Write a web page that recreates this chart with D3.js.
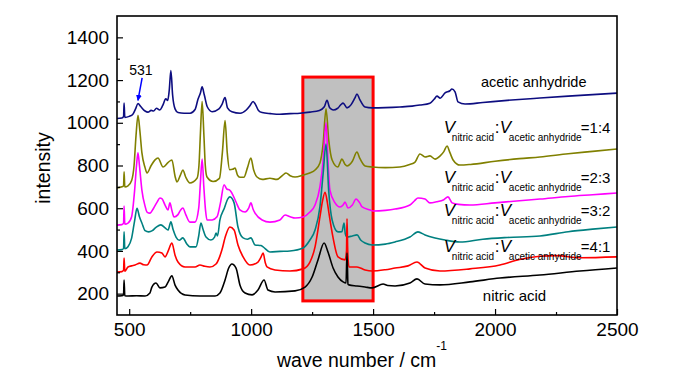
<!DOCTYPE html>
<html>
<head>
<meta charset="utf-8">
<script src="https://cdn.jsdelivr.net/npm/d3@7"></script>
<style>
    body { margin: 0; background: #fff; }
    svg { display: block; font-family: "Liberation Sans", Arial, sans-serif; }
</style>
</head>
<body>
<svg id="chart" width="700" height="374"></svg>
<script>
// spectra, [wave number, intensity]
const aceticAnhydride = [[450,1020],[470,1022],[477,1030],[479,1092],[482,1025],[500,1030],[515,1040],[526,1065],[536,1090],[548,1075],[565,1055],[577,1050],[590,1058],[600,1055],[612,1068],[625,1060],[637,1080],[650,1112],[658,1105],[664,1150],[671,1245],[678,1130],[688,1065],[700,1048],[725,1045],[750,1045],[770,1062],[782,1110],[792,1140],[799,1168],[808,1130],[820,1075],[840,1052],[868,1065],[880,1085],[893,1118],[903,1070],[921,1052],[955,1045],[980,1060],[995,1080],[1008,1100],[1018,1085],[1030,1058],[1045,1048],[1080,1043],[1118,1040],[1160,1043],[1200,1045],[1241,1050],[1280,1058],[1300,1075],[1311,1105],[1322,1070],[1336,1060],[1355,1068],[1368,1085],[1377,1092],[1393,1070],[1410,1085],[1425,1115],[1434,1135],[1445,1110],[1467,1074],[1496,1070],[1550,1071],[1610,1074],[1660,1078],[1692,1083],[1733,1092],[1750,1110],[1762,1125],[1775,1115],[1795,1140],[1815,1150],[1823,1158],[1836,1145],[1848,1098],[1877,1088],[1950,1095],[2050,1105],[2184,1116],[2300,1125],[2400,1132],[2500,1139]];

const ratio14 = [[450,695],[470,700],[477,705],[479,770],[482,700],[495,705],[510,730],[520,800],[528,940],[536,1035],[544,960],[552,860],[565,790],[573,765],[590,800],[605,825],[618,835],[639,793],[660,815],[675,826],[688,750],[696,723],[710,755],[720,779],[732,745],[749,718],[778,740],[786,800],[792,950],[799,1100],[806,950],[812,800],[819,746],[844,725],[870,740],[882,860],[893,1010],[902,860],[912,780],[924,782],[934,788],[944,755],[954,745],[970,745],[985,790],[999,835],[1010,780],[1024,746],[1045,735],[1077,740],[1106,735],[1130,755],[1143,765],[1160,752],[1180,746],[1213,755],[1240,765],[1262,779],[1282,812],[1295,900],[1307,1065],[1318,920],[1332,826],[1356,793],[1365,815],[1372,830],[1385,805],[1393,798],[1415,820],[1434,863],[1445,835],[1467,798],[1496,793],[1550,790],[1610,793],[1650,805],[1672,816],[1692,854],[1713,840],[1733,845],[1754,830],[1775,845],[1790,865],[1803,891],[1815,860],[1828,826],[1856,802],[1900,805],[2000,820],[2100,832],[2184,840],[2300,855],[2400,866],[2500,877]];

const ratio23 = [[450,521],[470,523],[477,530],[479,610],[482,525],[495,530],[510,560],[522,680],[530,800],[536,860],[542,800],[552,685],[565,610],[573,582],[585,577],[600,600],[615,630],[626,648],[634,645],[647,615],[659,592],[667,625],[675,590],[684,559],[700,570],[710,590],[720,601],[732,570],[749,535],[770,535],[785,600],[792,720],[799,830],[806,700],[813,590],[819,545],[840,545],[860,560],[875,630],[889,710],[900,690],[912,685],[921,671],[938,629],[954,592],[975,582],[990,600],[999,625],[1008,595],[1016,577],[1045,545],[1077,535],[1118,545],[1139,568],[1160,560],[1180,554],[1213,559],[1241,582],[1262,615],[1282,700],[1295,820],[1307,1000],[1315,820],[1323,685],[1344,625],[1364,606],[1377,615],[1385,629],[1397,601],[1415,615],[1430,643],[1445,625],[1455,606],[1488,592],[1500,587],[1550,590],[1590,596],[1651,615],[1670,635],[1684,648],[1713,643],[1733,625],[1760,630],[1790,640],[1807,653],[1824,625],[1850,618],[1897,615],[2000,625],[2100,635],[2184,643],[2300,655],[2400,663],[2500,671]];

const ratio32 = [[450,404],[470,406],[477,412],[479,490],[482,410],[495,420],[510,460],[522,540],[532,600],[542,560],[552,531],[565,495],[580,489],[595,495],[610,510],[630,522],[647,508],[659,498],[671,536],[680,500],[692,465],[705,450],[720,461],[735,435],[749,419],[774,419],[785,470],[794,531],[803,500],[815,465],[835,451],[850,465],[856,484],[862,470],[872,545],[890,600],[905,645],[913,653],[930,625],[946,512],[967,461],[985,455],[999,461],[1016,428],[1040,425],[1049,419],[1077,395],[1118,398],[1159,400],[1213,414],[1241,451],[1262,498],[1282,606],[1295,760],[1307,900],[1318,680],[1332,545],[1356,489],[1372,490],[1381,531],[1386,480],[1393,465],[1415,470],[1434,475],[1450,450],[1467,437],[1496,428],[1550,432],[1590,442],[1651,465],[1684,489],[1713,475],[1754,461],[1795,451],[1856,442],[1950,455],[2050,463],[2184,470],[2300,490],[2400,502],[2500,512]];

const ratio41 = [[450,301],[470,303],[477,310],[479,367],[482,305],[495,325],[510,330],[524,334],[544,343],[560,335],[573,334],[593,372],[614,395],[634,390],[647,372],[660,400],[675,437],[688,380],[700,348],[729,325],[770,325],[790,334],[810,328],[831,325],[856,339],[870,370],[880,404],[895,470],[913,512],[930,498],[946,428],[967,372],[995,334],[1028,348],[1040,370],[1049,390],[1058,345],[1065,325],[1098,311],[1159,306],[1213,316],[1241,348],[1262,419],[1282,559],[1292,630],[1303,675],[1312,630],[1319,577],[1336,461],[1356,372],[1385,358],[1391,400],[1393,550],[1396,400],[1401,325],[1434,325],[1467,311],[1496,306],[1550,312],[1590,320],[1643,330],[1680,348],[1713,320],[1774,306],[1897,316],[2020,334],[2100,360],[2184,375],[2250,378],[2350,368],[2500,372]];

const nitricAcid = [[450,189],[470,190],[477,195],[479,264],[482,190],[495,189],[530,190],[565,189],[585,203],[593,231],[610,250],[626,227],[647,231],[660,255],[675,283],[688,240],[700,217],[729,194],[790,189],[852,189],[872,203],[893,264],[908,320],[921,339],[938,320],[954,241],[975,203],[1004,194],[1028,217],[1053,264],[1069,217],[1098,208],[1180,213],[1221,231],[1250,278],[1274,358],[1299,437],[1315,395],[1336,320],[1356,278],[1377,255],[1389,250],[1393,390],[1397,245],[1401,241],[1434,236],[1467,231],[1496,227],[1541,245],[1560,238],[1590,236],[1651,250],[1680,269],[1713,245],[1774,241],[1897,255],[2020,273],[2184,287],[2348,306],[2500,320]];

const xTicks = [500, 1000, 1500, 2000, 2500];
const xMinorTicks = [750, 1250, 1750, 2250];
const yTicks = [200, 400, 600, 800, 1000, 1200, 1400];
const yMinorTicks = [300, 500, 700, 900, 1100, 1300];

const highlightX = [1212, 1500];
const highlightY = [166, 1214];

const ratioLabels = ["=1:4", "=2:3", "=3:2", "=4:1"];

const series = [
    { data: aceticAnhydride, color: "#0d0d80" },
    { data: ratio14, color: "#808000" },
    { data: ratio23, color: "#ff00ff" },
    { data: ratio32, color: "#008080" },
    { data: ratio41, color: "#ff0000" },
    { data: nitricAcid, color: "#000000" }
];

const svg = d3.select("#chart");
const margin = { left: 117, top: 16, right: 83, bottom: 59 };
const width = 700 - margin.left - margin.right;
const height = 374 - margin.top - margin.bottom;

const x = d3.scaleLinear().domain([450, 2500]).range([0, width]);
const y = d3.scaleLinear().domain([100, 1500]).range([height, 0]);

const g = svg.append("g").attr("transform", `translate(${margin.left},${margin.top})`);

// highlighted band
g.append("rect")
    .attr("x", x(highlightX[0]))
    .attr("y", y(highlightY[1]))
    .attr("width", x(highlightX[1]) - x(highlightX[0]))
    .attr("height", y(highlightY[0]) - y(highlightY[1]))
    .attr("fill", "#c0c0c0")
    .attr("stroke", "#ff0000")
    .attr("stroke-width", 3);

const line = d3.line()
    .x(d => x(d[0]))
    .y(d => y(d[1]))
    .curve(d3.curveMonotoneX);

g.selectAll("path.spectrum")
    .data(series)
    .enter()
    .append("path")
    .attr("class", "spectrum")
    .attr("d", d => line(d.data))
    .attr("fill", "none")
    .attr("stroke", d => d.color)
    .attr("stroke-width", 1.6);

// axes, ticks pointing inward
const styleAxis = sel => {
    sel.select(".domain").remove();
    sel.selectAll("line").attr("stroke", "#000").attr("stroke-width", 1.2);
    sel.selectAll("text")
        .attr("fill", "#000")
        .style("font-size", "19px")
        .style("font-family", "\"Liberation Sans\", Arial, sans-serif");
};

g.append("g")
    .attr("transform", `translate(0,${height})`)
    .call(d3.axisBottom(x).tickValues(xTicks).tickSize(-6).tickPadding(8).tickFormat(d3.format("d")))
    .call(styleAxis);
g.append("g")
    .attr("transform", `translate(0,${height})`)
    .call(d3.axisBottom(x).tickValues(xMinorTicks).tickSize(-3).tickFormat(""))
    .call(styleAxis);
g.append("g")
    .call(d3.axisLeft(y).tickValues(yTicks).tickSize(-6).tickPadding(8).tickFormat(d3.format("d")))
    .call(styleAxis);
g.append("g")
    .call(d3.axisLeft(y).tickValues(yMinorTicks).tickSize(-3).tickFormat(""))
    .call(styleAxis);

g.append("rect")
    .attr("width", width)
    .attr("height", height)
    .attr("fill", "none")
    .attr("stroke", "#000")
    .attr("stroke-width", 1.6);

// axis titles
const xTitle = svg.append("text")
    .attr("x", 277)
    .attr("y", 367)
    .style("font-size", "19.5px");
xTitle.append("tspan").text("wave number / cm");
xTitle.append("tspan").attr("dy", -17).style("font-size", "12px").text("-1");

svg.append("text")
    .attr("transform", "translate(50,168) rotate(-90)")
    .attr("text-anchor", "middle")
    .style("font-size", "19.5px")
    .text("intensity");

// 531 annotation
g.append("text")
    .attr("x", x(548))
    .attr("y", y(1224))
    .attr("text-anchor", "middle")
    .style("font-size", "14px")
    .text("531");

svg.append("defs").append("marker")
    .attr("id", "arrow")
    .attr("viewBox", "0 0 10 10")
    .attr("refX", 9)
    .attr("refY", 5)
    .attr("markerWidth", 4)
    .attr("markerHeight", 5)
    .attr("orient", "auto")
    .append("path")
    .attr("d", "M0,0L10,5L0,10z")
    .attr("fill", "#0000ff");

g.append("line")
    .attr("x1", x(553))
    .attr("y1", y(1210))
    .attr("x2", x(536))
    .attr("y2", y(1105))
    .attr("stroke", "#0000ff")
    .attr("stroke-width", 1.5)
    .attr("marker-end", "url(#arrow)");

// sample labels
g.append("text")
    .attr("x", x(1942))
    .attr("y", y(1166))
    .style("font-size", "14.5px")
    .text("acetic anhydride");

g.append("text")
    .attr("x", x(1950))
    .attr("y", y(167))
    .style("font-size", "15px")
    .text("nitric acid");

const ratioY = [953, 720, 565, 393];
ratioLabels.forEach((label, i) => {
    const lg = g.append("g")
        .attr("transform", `translate(${x(1790)},${y(ratioY[i])})`);
    lg.append("text").attr("x", 0).style("font-size", "17px").style("font-style", "italic").text("V");
    lg.append("text").attr("x", 8).attr("y", 8).style("font-size", "10px").text("nitric acid");
    lg.append("text").attr("x", 51).style("font-size", "17px").text(":");
    lg.append("text").attr("x", 56).style("font-size", "17px").style("font-style", "italic").text("V");
    lg.append("text").attr("x", 65).attr("y", 8).style("font-size", "10px").text("acetic anhydride");
    lg.append("text").attr("x", 137).style("font-size", "15px").text(label);
});
</script>
</body>
</html>
